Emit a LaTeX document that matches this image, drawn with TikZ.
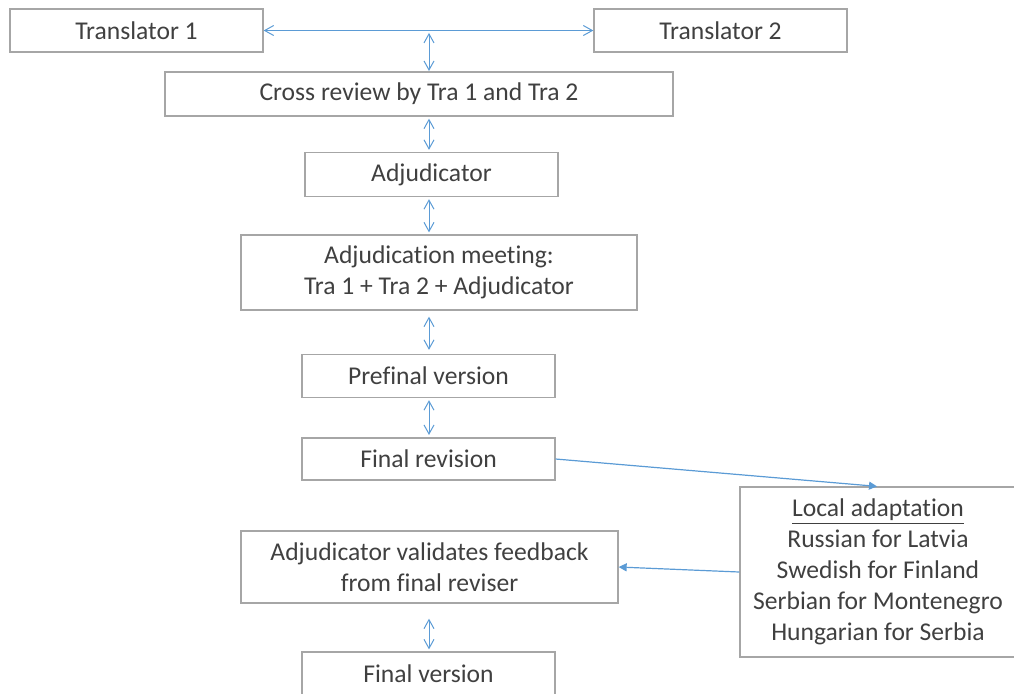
\documentclass[tikz,border=0pt]{standalone}
\usepackage{fontspec}
\setmainfont[Ligatures=NoCommon]{Carlito}
\usetikzlibrary{arrows.meta}
\definecolor{txt}{HTML}{404040}
\definecolor{bord}{HTML}{A6A6A6}
\definecolor{arr}{HTML}{5B9BD5}
\begin{document}
\begin{tikzpicture}[x=0.5pt,y=-0.5pt,
  box/.style={draw=bord,line width=0.65pt,text=txt,align=center,inner sep=0pt,
    font=\fontsize{12.8}{15.5}\selectfont},
  dbl/.style={draw=arr,line width=0.5pt,{Straight Barb[length=4.5pt,width=5pt]}-{Straight Barb[length=4.5pt,width=5pt]}},
  one/.style={draw=arr,line width=0.6pt,-{Triangle[length=4pt,width=4pt]}}]
\useasboundingbox (0,0) rectangle (1014,693);
\begin{scope}
\clip (0,0) rectangle (1014,693);
\node[box,minimum width=126.5pt,minimum height=21.5pt] (t1) at (136.5,30.5) {Translator 1};
\node[box,minimum width=126.5pt,minimum height=21.5pt] (t2) at (720.5,30.5) {Translator 2};
\node[box,minimum width=254pt,minimum height=22pt] (cr) at (419,94) {Cross review by Tra 1 and Tra 2};
\node[box,minimum width=126.5pt,minimum height=22pt] (ad) at (431.5,174.5) {Adjudicator};
\node[box,minimum width=198pt,minimum height=37.5pt] (am) at (439,272.5) {Adjudication meeting:\\Tra 1 + Tra 2 + Adjudicator};
\node[box,minimum width=126.5pt,minimum height=21.5pt] (pv) at (428.5,376) {Prefinal version};
\node[box,minimum width=126.5pt,minimum height=21pt] (fr) at (428.5,459) {Final revision};
\node[box,minimum width=138pt,minimum height=85pt] (la) at (878,572) {\underline{Local adaptation}\\Russian for Latvia\\Swedish for Finland\\Serbian for Montenegro\\Hungarian for Serbia};
\node[box,minimum width=188.5pt,minimum height=36pt] (av) at (429.5,567) {Adjudicator validates feedback\\from final reviser};
\node[box,minimum width=126.5pt,minimum height=21.5pt] (fv) at (428.5,673.5) {Final version};
\coordinate (ax) at (429,30.5);
\draw[dbl] (t1.east) -- (t2.west);
\draw[dbl,shorten <=1.2pt,shorten >=0.2pt] (ax) -- (ax |- cr.north);
\draw[dbl,shorten <=1pt,shorten >=1pt] (ax |- cr.south) -- (ax |- ad.north);
\draw[dbl,shorten <=1pt,shorten >=1pt] (ax |- ad.south) -- (ax |- am.north);
\draw[dbl,shorten <=3pt,shorten >=2pt] (ax |- am.south) -- (ax |- pv.north);
\draw[dbl,shorten <=1pt,shorten >=1.2pt] (ax |- pv.south) -- (ax |- fr.north);
\draw[dbl,shorten <=7.5pt,shorten >=1pt] (ax |- av.south) -- (ax |- fv.north);
\draw[one] (fr.east) -- ([xshift=-0.5pt]la.north);
\draw[one] (la.west) -- (av.east);
\end{scope}
\end{tikzpicture}
\end{document}
